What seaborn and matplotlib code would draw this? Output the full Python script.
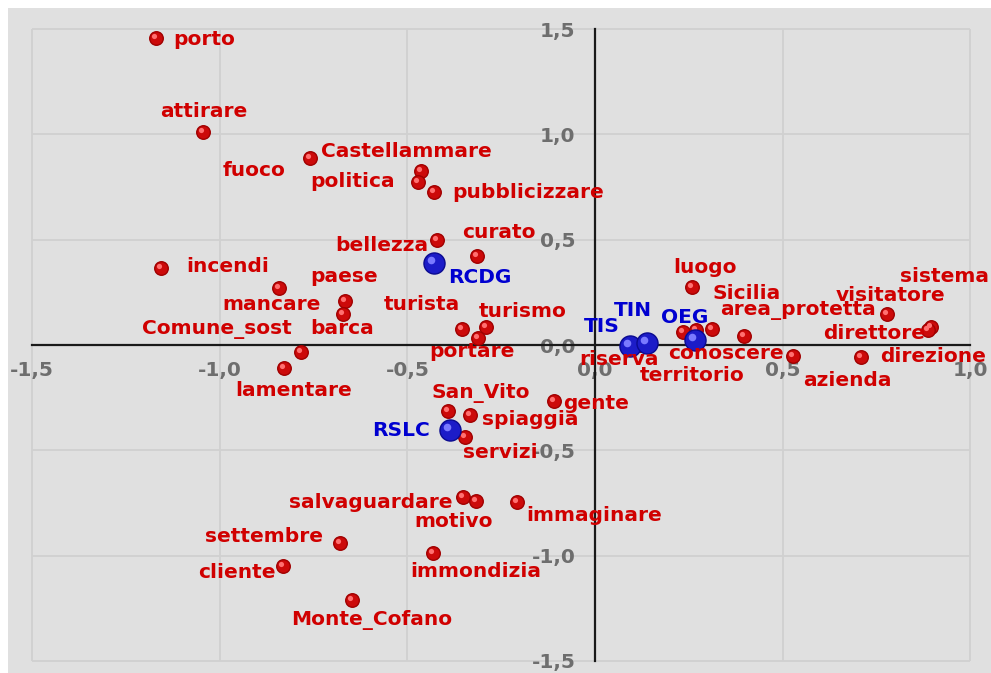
import matplotlib
matplotlib.use("Agg")
import matplotlib.pyplot as plt
import matplotlib.transforms as mtransforms
import seaborn as sns
import pandas as pd

# parole (punti rossi)
parole = ["porto", "attirare", "fuoco", "Castellammare", "politica", "pubblicizzare",
          "bellezza", "curato", "incendi", "mancare", "paese", "barca", "turista",
          "turismo", "portare", "Comune_sost", "lamentare", "luogo", "territorio",
          "conoscere", "Sicilia", "area_protetta", "riserva", "visitatore", "sistema",
          "direttore", "azienda", "direzione", "San_Vito", "spiaggia", "servizi",
          "gente", "salvaguardare", "motivo", "immaginare", "settembre", "immondizia",
          "cliente", "Monte_Cofano"]
parole_x = [-1.170, -1.045, -0.759, -0.464, -0.472, -0.429,
            -0.421, -0.314, -1.156, -0.842, -0.666, -0.671, -0.354,
            -0.290, -0.312, -0.783, -0.829, 0.258, 0.234,
            0.269, 0.312, 0.397, 0.120, 0.778, 0.895,
            0.887, 0.528, 0.709, -0.392, -0.333, -0.346,
            -0.109, -0.352, -0.317, -0.208, -0.679, -0.432,
            -0.831, -0.647]
parole_y = [1.458, 1.011, 0.888, 0.826, 0.774, 0.726,
            0.498, 0.423, 0.365, 0.270, 0.209, 0.147, 0.076,
            0.085, 0.033, -0.033, -0.109, 0.275, 0.062,
            0.071, 0.076, 0.043, 0.000, 0.147, 0.085,
            0.071, -0.052, -0.057, -0.313, -0.332, -0.437,
            -0.266, -0.722, -0.741, -0.745, -0.940, -0.988,
            -1.049, -1.211]

# gruppi (punti blu)
gruppi = ["RCDG", "RSLC", "TIS", "TIN", "OEG"]
gruppi_x = [-0.429, -0.386, 0.093, 0.139, 0.266]
gruppi_y = [0.389, -0.404, -0.005, 0.009, 0.024]

x_ticks = [-1.5, -1.0, -0.5, 0.0, 0.5, 1.0]
y_ticks = [-1.5, -1.0, -0.5, 0.0, 0.5, 1.0, 1.5]

# posizione delle etichette (offset in pixel, allineamento)
etichette = {
    "porto": (17, -2, "left"), "attirare": (1, 21, "center"),
    "fuoco": (-25, -13, "right"), "Castellammare": (-14, 20, "center"),
    "politica": (-23, 0, "right"), "pubblicizzare": (18, 0, "left"),
    "bellezza": (-9, -5, "right"), "curato": (22, 23, "center"),
    "incendi": (25, 2, "left"), "mancare": (-7, -16, "center"),
    "paese": (-1, 25, "center"), "barca": (-1, -14, "center"),
    "turista": (-2, 25, "right"), "turismo": (37, 16, "center"),
    "portare": (-6, -13, "center"), "Comune_sost": (-9, 22, "right"),
    "lamentare": (10, -23, "center"), "luogo": (13, 20, "center"),
    "territorio": (-43, -44, "left"), "conoscere": (-28, -23, "left"),
    "Sicilia": (0, 36, "left"), "area_protetta": (-24, 25, "left"),
    "riserva": (-21, -14, "center"), "visitatore": (3, 19, "center"),
    "sistema": (14, 51, "center"), "direttore": (-3, -3, "right"),
    "azienda": (10, -25, "left"), "direzione": (19, 1, "left"),
    "San_Vito": (33, 18, "center"), "spiaggia": (12, -5, "left"),
    "servizi": (-2, -15, "left"), "gente": (9, -2, "left"),
    "salvaguardare": (-10, -5, "right"), "motivo": (-22, -20, "center"),
    "immaginare": (9, -14, "left"), "settembre": (-17, 7, "right"),
    "immondizia": (-23, -18, "left"), "cliente": (-7, -7, "right"),
    "Monte_Cofano": (20, -20, "center"),
    "RCDG": (14, -14, "left"), "RSLC": (-20, 0, "right"),
    "TIS": (-10, 20, "right"), "TIN": (-14, 33, "center"),
    "OEG": (-10, 22, "center"),
}

df_parole = pd.DataFrame({"nome": parole, "x": parole_x, "y": parole_y})
df_gruppi = pd.DataFrame({"nome": gruppi, "x": gruppi_x, "y": gruppi_y})

sns.set_style("white")
plt.rcParams["font.family"] = ["DejaVu Sans"]

fig = plt.figure(figsize=(9.91, 6.73), dpi=100)
ax = fig.add_axes([8 / 991, 0, 983 / 991, 665 / 673])
ax.set_facecolor("#e0e0e0")
ax.set_xlim(-1.564, 1.055)
ax.set_ylim(-1.557, 1.600)

# griglia
ax.vlines(x_ticks, -1.5, 1.5, color="#d0d0d0", lw=1.3, zorder=0)
ax.hlines(y_ticks, -1.5, 1.0, color="#d0d0d0", lw=1.3, zorder=0)

# assi che passano per l'origine
for s in ["top", "right"]:
    ax.spines[s].set_visible(False)
for s in ["left", "bottom"]:
    ax.spines[s].set_position(("data", 0))
    ax.spines[s].set_color("#1a1a1a")
    ax.spines[s].set_linewidth(1.6)
    ax.spines[s].set_zorder(2)
ax.spines["bottom"].set_bounds(-1.5, 1.0)
ax.spines["left"].set_bounds(-1.5, 1.5)

fmt = lambda v: f"{v:.1f}".replace(".", ",")
ax.set_xticks(x_ticks)
ax.set_xticklabels([fmt(v) for v in x_ticks])
ax.set_yticks(y_ticks)
ax.set_yticklabels([fmt(v) for v in y_ticks])
ax.tick_params(direction="inout", length=10, width=1.6, color="#1a1a1a",
               labelcolor="#6e6e6e", labelsize=14.5)
ax.tick_params(axis="x", pad=6.5)
ax.tick_params(axis="y", pad=9)
for t in ax.get_xticklabels() + ax.get_yticklabels():
    t.set_fontweight("bold")

# punti
sns.scatterplot(data=df_parole, x="x", y="y", color="#cc0a0a", s=95,
                edgecolor="#a00000", linewidth=1.0, zorder=3, ax=ax)
sns.scatterplot(data=df_gruppi, x="x", y="y", color="#1c1cc8", s=230,
                edgecolor="#0a0a90", linewidth=1.0, zorder=4, ax=ax)
# riflesso delle sfere
shift = mtransforms.ScaledTranslation(-2 / 100, 2 / 100, fig.dpi_scale_trans)
ax.scatter(df_parole["x"], df_parole["y"], s=14, color="#ff7070",
           linewidth=0, zorder=3.5, transform=ax.transData + shift)
shift_b = mtransforms.ScaledTranslation(-3 / 100, 3 / 100, fig.dpi_scale_trans)
ax.scatter(df_gruppi["x"], df_gruppi["y"], s=30, color="#7a7aff",
           linewidth=0, zorder=4.5, transform=ax.transData + shift_b)
ax.set_xlabel("")
ax.set_ylabel("")

for df, col in [(df_parole, "#d00000"), (df_gruppi, "#0000d0")]:
    for nome, x, y in zip(df["nome"], df["x"], df["y"]):
        dx, dy, ha = etichette[nome]
        ax.annotate(nome, (x, y), xytext=(dx, dy), textcoords="offset pixels",
                    ha=ha, va="center", fontsize=14.5, fontweight="bold",
                    color=col, zorder=5)

fig.savefig("out.png", dpi=100)
